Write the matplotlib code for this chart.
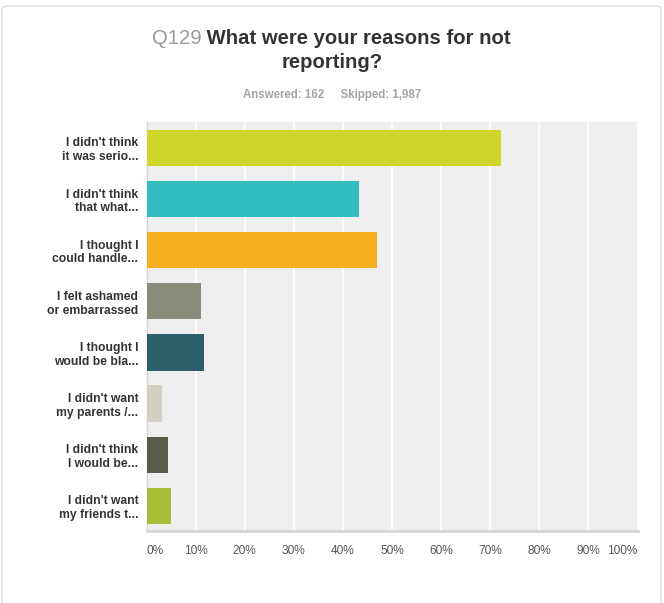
import matplotlib
matplotlib.use('Agg')
import matplotlib.pyplot as plt
import matplotlib.patches as mpatches
import numpy as np

plt.rcParams['font.family'] = ['Liberation Sans', 'DejaVu Sans']

# Survey responses (share of respondents, %)
labels = [
    "I didn't think\nit was serio...",
    "I didn't think\nthat what...",
    "I thought I\ncould handle...",
    "I felt ashamed\nor embarrassed",
    "I thought I\nwould be bla...",
    "I didn't want\nmy parents /...",
    "I didn't think\nI would be...",
    "I didn't want\nmy friends t...",
]
values = [72.22, 43.21, 46.91, 11.11, 11.73, 3.09, 4.32, 4.94]
colors = ['#d0d52a', '#33bdbe', '#f6ae20', '#898a77', '#2d5f6b',
          '#d1d0c1', '#5b5b4b', '#a9bd38']
xticks = np.arange(0, 101, 10)
xtick_labels = [f'{t}%' for t in xticks]

fig = plt.figure(figsize=(6.64, 6.03), dpi=100)

# light card outline behind the chart
fig.patches.append(mpatches.FancyBboxPatch(
    (2 / 664, -0.02), 659 / 664, 1 - 6 / 603 + 0.02,
    boxstyle='round,pad=0,rounding_size=0.008', transform=fig.transFigure,
    facecolor='white', edgecolor='#dcdcdc', linewidth=1.0, zorder=-10))

ax = fig.add_axes([0.2208, 0.1186, 0.7393, 0.6786])
ax.set_facecolor('#efefef')

y = np.arange(len(labels))
ax.barh(y, values, height=0.71, color=colors, edgecolor='none', zorder=3)

ax.set_xlim(0, 100)
ax.set_ylim(len(labels) - 0.5, -0.5)
ax.set_xticks(xticks)
ax.set_xticklabels(xtick_labels, fontsize=8.6, color='#555555')
xl = ax.get_xticklabels()
xl[0].set_ha('left')
xl[-1].set_ha('right')
ax.set_yticks(y)
ax.set_yticklabels(labels, fontsize=8.7, fontweight='bold', color='#333333',
                   linespacing=1.2)
ax.tick_params(axis='both', length=0)
ax.tick_params(axis='x', pad=10)
ax.tick_params(axis='y', pad=6)

ax.grid(axis='x', color='white', linewidth=1.3, zorder=1)
ax.set_axisbelow(True)
for s in ['top', 'right']:
    ax.spines[s].set_visible(False)
ax.spines['left'].set_color('#d6d6d6')
ax.spines['left'].set_linewidth(1.0)
ax.spines['bottom'].set_color('#d6d6d6')
ax.spines['bottom'].set_linewidth(2.0)

# title: question number in grey, question text in dark bold
t1 = fig.text(0.2285, 1 - 39 / 603, 'Q129', fontsize=14.6, color='#999999',
              ha='left', va='center')
ax.annotate(' What were your reasons for not', xy=(1, 0.5), xycoords=t1,
            fontsize=14.6, fontweight='bold', color='#333333',
            ha='left', va='center', annotation_clip=False)
fig.text(0.501, 1 - 63 / 603, 'reporting?', fontsize=14.6, fontweight='bold',
         color='#333333', ha='center', va='center')
fig.text(0.5, 1 - 95 / 603, 'Answered: 162     Skipped: 1,987', fontsize=8.3,
         fontweight='bold', color='#a3a3a3', ha='center', va='center')

fig.savefig('out.png', dpi=100)
